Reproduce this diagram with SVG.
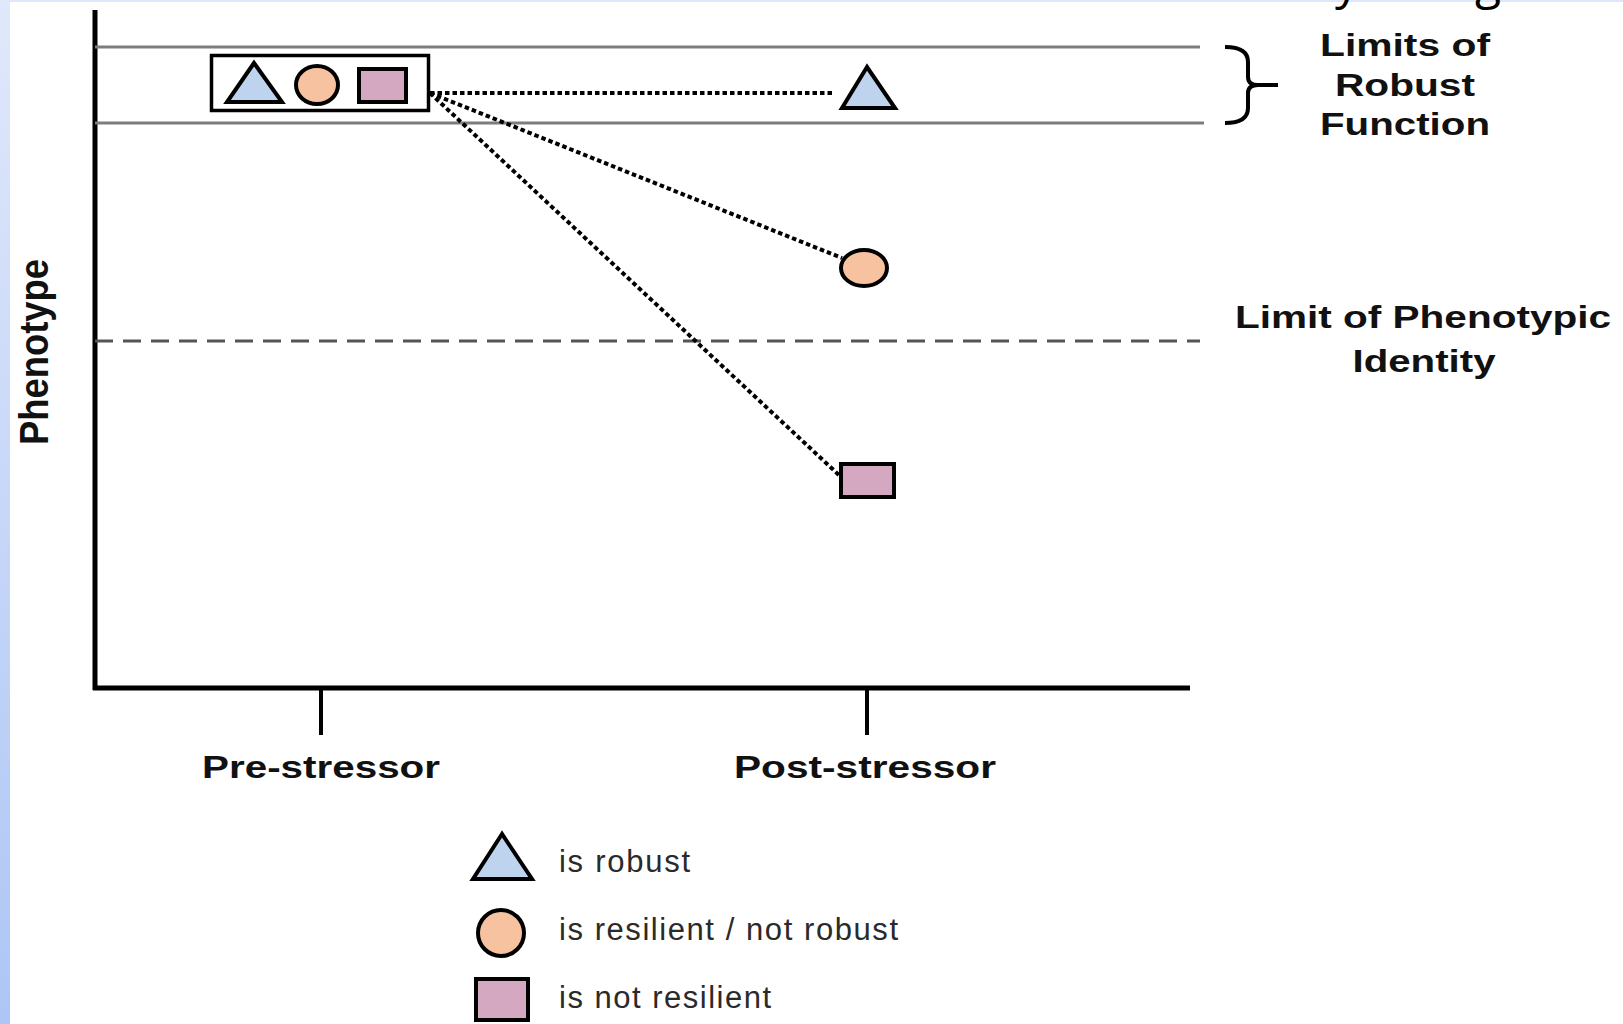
<svg xmlns="http://www.w3.org/2000/svg" width="1623" height="1024" viewBox="0 0 1623 1024">
  <defs>
    <linearGradient id="strip" x1="0" y1="0" x2="0" y2="1">
      <stop offset="0" stop-color="#e0e8fb"/>
      <stop offset="1" stop-color="#adc6f5"/>
    </linearGradient>
    <style>
      .axis { stroke: #000; stroke-width: 5; fill: none; }
      .tick { stroke: #000; stroke-width: 4; fill: none; }
      .limit { stroke: #7d7d7d; stroke-width: 3; fill: none; }
      .dash { stroke: #555; stroke-width: 3; stroke-dasharray: 18 10; fill: none; }
      .dot { stroke: #000; stroke-width: 4; stroke-dasharray: 4.5 3; fill: none; }
      .tri { fill: #bdd3ee; stroke: #000; stroke-width: 4; stroke-linejoin: miter; }
      .circ { fill: #f7c29f; stroke: #000; stroke-width: 4; }
      .sq { fill: #d5a8c2; stroke: #000; stroke-width: 4; }
      .lbl { font-family: "Liberation Sans", Arial, sans-serif; font-weight: bold; font-size: 32px; fill: #111; }
      .leg { font-family: "Liberation Sans", Arial, sans-serif; font-size: 31px; fill: #2a2a2a; }
      .ttl { font-family: "Open Sans", "Liberation Sans", sans-serif; font-size: 48px; fill: #000; }
    </style>
  </defs>
  <rect x="0" y="0" width="1623" height="1024" fill="#ffffff"/>
  <rect x="0" y="0" width="1623" height="2" fill="#dfe7fb"/>
  <rect x="0" y="0" width="10" height="1024" fill="url(#strip)"/>

  <g id="title-fragment">
    <text class="ttl" x="1335" y="-1">y</text>
    <text class="ttl" x="1475" y="-1">g</text>
  </g>

  <g id="axes">
    <line class="axis" x1="95" y1="10" x2="95" y2="690"/>
    <line class="axis" x1="93" y1="688" x2="1190" y2="688"/>
    <line class="tick" x1="321" y1="688" x2="321" y2="735"/>
    <line class="tick" x1="867" y1="688" x2="867" y2="735"/>
    <text class="lbl" x="321" y="778" text-anchor="middle" textLength="238" lengthAdjust="spacingAndGlyphs">Pre-stressor</text>
    <text class="lbl" x="865" y="778" text-anchor="middle" textLength="262" lengthAdjust="spacingAndGlyphs">Post-stressor</text>
    <text class="lbl" font-size="25" transform="translate(48,352) rotate(-90) scale(1,1.25)" text-anchor="middle" textLength="186" lengthAdjust="spacingAndGlyphs">Phenotype</text>
  </g>

  <g id="limits">
    <line class="limit" x1="95" y1="47" x2="1200" y2="47"/>
    <line class="limit" x1="95" y1="123" x2="1204" y2="123"/>
    <line class="dash" x1="95" y1="341" x2="1200" y2="341"/>
    <path d="M1225,47 Q1248,47 1248,62 L1248,77 Q1248,85 1258,85 L1278,85 M1258,85 Q1248,85 1248,93 L1248,108 Q1248,123 1225,123" stroke="#000" stroke-width="4" fill="none"/>
    <text class="lbl" x="1405" y="56" text-anchor="middle" textLength="170" lengthAdjust="spacingAndGlyphs">Limits of</text>
    <text class="lbl" x="1405" y="96" text-anchor="middle" textLength="140" lengthAdjust="spacingAndGlyphs">Robust</text>
    <text class="lbl" x="1405" y="135" text-anchor="middle" textLength="170" lengthAdjust="spacingAndGlyphs">Function</text>
    <text class="lbl" x="1423" y="328" text-anchor="middle" textLength="376" lengthAdjust="spacingAndGlyphs">Limit of Phenotypic</text>
    <text class="lbl" x="1424" y="372" text-anchor="middle" textLength="143" lengthAdjust="spacingAndGlyphs">Identity</text>
  </g>

  <g id="connectors">
    <line class="dot" x1="430" y1="93" x2="834" y2="93"/>
    <line class="dot" x1="430" y1="93" x2="842" y2="258"/>
    <line class="dot" x1="430" y1="93" x2="840" y2="476"/>
  </g>

  <g id="pre-stressor-group">
    <rect x="211.5" y="55.5" width="217" height="55" fill="#fff" stroke="#000" stroke-width="3.5"/>
    <polygon class="tri" points="254,63 227,102 282,102"/>
    <ellipse class="circ" cx="317" cy="85" rx="21" ry="19"/>
    <rect class="sq" x="359" y="69" width="47" height="33"/>
  </g>

  <g id="post-triangle">
    <polygon class="tri" points="867,67 842,108 895,108"/>
  </g>
  <g id="post-circle">
    <ellipse class="circ" cx="864" cy="268" rx="23" ry="18"/>
  </g>
  <g id="post-square">
    <rect class="sq" x="841" y="464" width="53" height="33"/>
  </g>

  <g id="legend">
    <polygon class="tri" points="502,834 473,879 532,879"/>
    <circle class="circ" cx="501" cy="933" r="23"/>
    <rect class="sq" x="476" y="979" width="52" height="41"/>
    <text class="leg" x="559" y="872" textLength="131" lengthAdjust="spacing">is robust</text>
    <text class="leg" x="559" y="940" textLength="339" lengthAdjust="spacing">is resilient / not robust</text>
    <text class="leg" x="559" y="1008" textLength="212" lengthAdjust="spacing">is not resilient</text>
  </g>
</svg>
